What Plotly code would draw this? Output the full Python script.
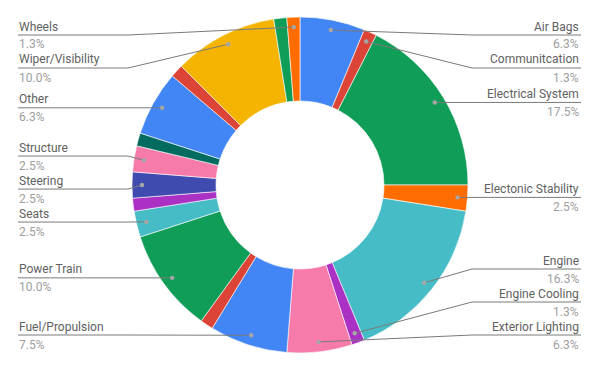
import math
import plotly.graph_objects as go

# ---- data ----
labels = ["Air Bags", "Communitcation", "Electrical System", "Electonic Stability",
          "Engine", "Engine Cooling", "Exterior Lighting", "Fuel/Propulsion",
          "Latches/Locks", "Power Train", "Seats", "Service Brakes", "Steering",
          "Structure", "Suspension", "Other", "Unknown", "Wiper/Visibility",
          "Visual Systems", "Wheels"]
counts = [5, 1, 14, 2, 13, 1, 5, 6, 1, 8, 2, 1, 2, 2, 1, 5, 1, 8, 1, 1]
label_shown = [True, True, True, True, True, True, True, True, False, True,
               True, False, True, True, False, True, False, True, False, True]
colors = ["#4285F4", "#DB4437", "#0F9D58", "#FF6D00", "#46BDC6", "#AB30C4",
          "#F77BAA", "#4285F4", "#DB4437", "#0F9D58", "#46BDC6", "#AB30C4",
          "#3F4BAE", "#F77BAA", "#006B5E", "#4285F4", "#DB4437", "#F4B400",
          "#0F9D58", "#FF6D00"]

# ---- geometry (window pixels) ----
PAGE_MARGIN = 8          # default body margin of the html page
WIN_W, WIN_H = 600, 371
W, H = WIN_W - PAGE_MARGIN, WIN_H - PAGE_MARGIN
CX, CY = 300, 185
R_OUT = 168
R_DOT = 158
BEND = 172
LEFT_X, RIGHT_X = 18, 581
LEFT_TX, RIGHT_TX = 17, 581
GAP = 33
TOP, BOTTOM = 35, 335
LINE_COLOR = "#7a7a7a"
NAME_COLOR = "#616161"
PCT_COLOR = "#9e9e9e"
FONT = "Roboto"


def px(x):
    return (x - PAGE_MARGIN) / W


def py(y):
    return 1 - (y - PAGE_MARGIN) / H


total = sum(counts)


def pct_text(v):
    p = math.floor(v / total * 1000 + 0.5) / 10
    return f"{p:.1f}%"


fig = go.Figure(go.Pie(
    labels=labels, values=counts, hole=0.5, sort=False,
    direction="clockwise", rotation=0,
    marker=dict(colors=colors, line=dict(color="white", width=0.6)),
    textinfo="none", hoverinfo="label+percent", showlegend=False,
    domain=dict(x=[0, 1], y=[py(CY + R_OUT), py(CY - R_OUT)]),
))
# centre the pie horizontally at CX
half = min(CX - PAGE_MARGIN, W - (CX - PAGE_MARGIN))
fig.data[0].domain.x = [px(CX - half), px(CX + half)]

# ---- compute anchor dots ----
items = []
cum = 0
for i, v in enumerate(counts):
    mid = (cum + v / 2) / total * 2 * math.pi
    cum += v
    if not label_shown[i]:
        continue
    xd = CX + R_DOT * math.sin(mid)
    yd = CY - R_DOT * math.cos(mid)
    items.append(dict(i=i, xd=xd, yd=yd, side="right" if xd >= CX else "left"))


def place(side_items):
    side_items.sort(key=lambda d: d["yd"])
    clusters = []
    for it in side_items:
        clusters.append([it])
        while len(clusters) >= 2:
            a, b = clusters[-2], clusters[-1]
            sa = sum(d["yd"] - k * GAP for k, d in enumerate(a)) / len(a)
            sb = sum(d["yd"] - k * GAP for k, d in enumerate(b)) / len(b)
            if sa + GAP * len(a) > sb:
                clusters[-2:] = [a + b]
            else:
                break
    for c in clusters:
        s = sum(d["yd"] - k * GAP for k, d in enumerate(c)) / len(c)
        for k, d in enumerate(c):
            d["yl"] = s + k * GAP
    prev = -1e9
    for d in side_items:
        d["yl"] = max(d["yl"], TOP, prev + GAP)
        prev = d["yl"]
    nxt = 1e9
    for d in reversed(side_items):
        d["yl"] = min(d["yl"], BOTTOM, nxt - GAP)
        nxt = d["yl"]


place([d for d in items if d["side"] == "right"])
place([d for d in items if d["side"] == "left"])

shapes = []
annotations = []
for d in items:
    i = d["i"]
    yl = d["yl"]
    if d["side"] == "right":
        bx = max(CX + BEND, d["xd"])
        ex = RIGHT_X
        xanchor = "right"
        tx = RIGHT_TX
    else:
        bx = min(CX - BEND, d["xd"])
        ex = LEFT_X
        xanchor = "left"
        tx = LEFT_TX
    shapes.append(dict(type="line", xref="paper", yref="paper", layer="above",
                       x0=px(d["xd"]), y0=py(d["yd"]), x1=px(bx), y1=py(yl),
                       line=dict(color=LINE_COLOR, width=1)))
    shapes.append(dict(type="line", xref="paper", yref="paper", layer="above",
                       x0=px(bx), y0=py(yl), x1=px(ex), y1=py(yl),
                       line=dict(color=LINE_COLOR, width=1)))
    r = 2.2
    shapes.append(dict(type="circle", xref="paper", yref="paper", layer="above",
                       x0=px(d["xd"] - r), x1=px(d["xd"] + r),
                       y0=py(d["yd"] - r), y1=py(d["yd"] + r),
                       fillcolor="#a6a6a6", line=dict(width=0)))
    annotations.append(dict(xref="paper", yref="paper", x=px(tx), y=py(yl - 8.5),
                            text=labels[i], showarrow=False, xanchor=xanchor,
                            yanchor="middle",
                            font=dict(family=FONT, size=12, color=NAME_COLOR)))
    annotations.append(dict(xref="paper", yref="paper", x=px(tx), y=py(yl + 9.5),
                            text=pct_text(counts[i]), showarrow=False,
                            xanchor=xanchor, yanchor="middle",
                            font=dict(family=FONT, size=12, color=PCT_COLOR)))

fig.update_layout(
    width=W, height=H, margin=dict(l=0, r=0, t=0, b=0),
    paper_bgcolor="white", plot_bgcolor="white",
    shapes=shapes, annotations=annotations, showlegend=False,
)

fig.write_html("out.html")
